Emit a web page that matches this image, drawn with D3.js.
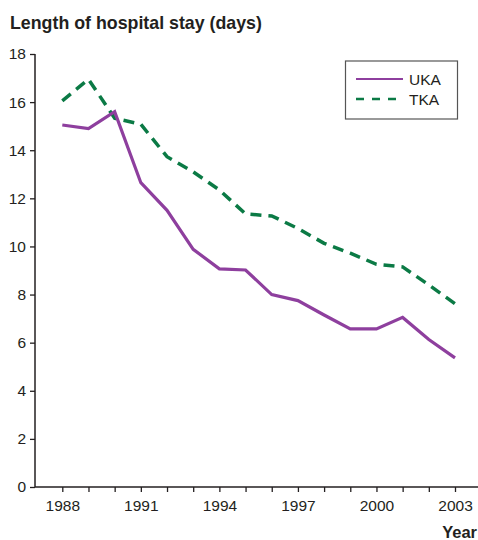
<!DOCTYPE html>
<html lang="en">

<head>
    <meta charset="UTF-8">
    <script src="https://d3js.org/d3.v7.min.js"></script>
    <title>Length of hospital stay</title>
    <style>
        body { margin: 0; background: #fff; }
        text { font-family: "Liberation Sans", Arial, sans-serif; fill: #231f20; }
    </style>
</head>

<body>
    <svg class="chart"></svg>
    <script>
        // data
        var years = [1988, 1989, 1990, 1991, 1992, 1993, 1994, 1995, 1996, 1997, 1998, 1999, 2000, 2001, 2002, 2003];
        var uka = [15.05, 14.9, 15.6, 12.65, 11.5, 9.88, 9.07, 9.02, 8.0, 7.75, 7.15, 6.57, 6.57, 7.05, 6.13, 5.37];
        var tka = [16.05, 16.95, 15.33, 15.08, 13.73, 13.1, 12.35, 11.35, 11.27, 10.75, 10.13, 9.72, 9.26, 9.15, 8.4, 7.62];
        var xTickLabels = [1988, 1991, 1994, 1997, 2000, 2003];
        var yTicks = [0, 2, 4, 6, 8, 10, 12, 14, 16, 18];

        var svg = d3.select(".chart")
            .attr("width", 478)
            .attr("height", 540);

        var x = d3.scaleLinear().domain([1988, 2003]).range([62.3, 455]);
        var y = d3.scaleLinear().domain([0, 18]).range([487, 54]);

        svg.append("text")
            .attr("x", 10)
            .attr("y", 29)
            .attr("font-size", 17.8)
            .attr("font-weight", "bold")
            .text("Length of hospital stay (days)");

        // y axis
        var yAxis = svg.append("g")
            .attr("transform", "translate(35,0)")
            .call(d3.axisLeft(y).tickValues(yTicks).tickSize(5).tickPadding(4));

        // x axis
        var xAxis = svg.append("g")
            .attr("transform", "translate(0,487)")
            .call(d3.axisBottom(x).tickValues(d3.range(1988, 2004)).tickSize(5).tickPadding(8)
                .tickFormat(function(d) { return xTickLabels.indexOf(d) >= 0 ? d : ""; }));

        [yAxis, xAxis].forEach(function(a) {
            a.selectAll("path").remove();
            a.selectAll("line").attr("stroke", "#231f20").attr("stroke-width", 1.3);
            a.selectAll("text")
                .attr("font-size", 15.5)
                .attr("fill", "#231f20")
                .style("font-family", "'Liberation Sans', Arial, sans-serif");
        });

        // axis lines
        svg.append("line")
            .attr("x1", 35).attr("y1", 54)
            .attr("x2", 35).attr("y2", 487)
            .attr("stroke", "#231f20").attr("stroke-width", 1.5);
        svg.append("line")
            .attr("x1", 35).attr("y1", 487)
            .attr("x2", 478).attr("y2", 487)
            .attr("stroke", "#231f20").attr("stroke-width", 1.5);

        svg.append("text")
            .attr("x", 477)
            .attr("y", 538)
            .attr("text-anchor", "end")
            .attr("font-size", 16.5)
            .attr("font-weight", "bold")
            .text("Year");

        var line = d3.line()
            .x(function(d, i) { return x(years[i]); })
            .y(function(d) { return y(d); });

        svg.append("path")
            .datum(tka)
            .attr("d", line)
            .attr("fill", "none")
            .attr("stroke", "#0b7a45")
            .attr("stroke-width", 3.5)
            .attr("stroke-dasharray", "11,7");

        svg.append("path")
            .datum(uka)
            .attr("d", line)
            .attr("fill", "none")
            .attr("stroke", "#8e3f9e")
            .attr("stroke-width", 3.2)
            .attr("stroke-linejoin", "miter");

        // legend
        var legend = svg.append("g");
        legend.append("rect")
            .attr("x", 345.5).attr("y", 61)
            .attr("width", 112).attr("height", 58)
            .attr("fill", "#fff")
            .attr("stroke", "#555").attr("stroke-width", 1.2);
        legend.append("line")
            .attr("x1", 356).attr("y1", 79).attr("x2", 403).attr("y2", 79)
            .attr("stroke", "#8e3f9e").attr("stroke-width", 2);
        legend.append("line")
            .attr("x1", 356).attr("y1", 99).attr("x2", 403).attr("y2", 99)
            .attr("stroke", "#0b7a45").attr("stroke-width", 2.5)
            .attr("stroke-dasharray", "8,8");
        legend.append("text")
            .attr("x", 409).attr("y", 85)
            .attr("font-size", 15.5)
            .text("UKA");
        legend.append("text")
            .attr("x", 409).attr("y", 105)
            .attr("font-size", 15.5)
            .text("TKA");
    </script>
</body>

</html>
